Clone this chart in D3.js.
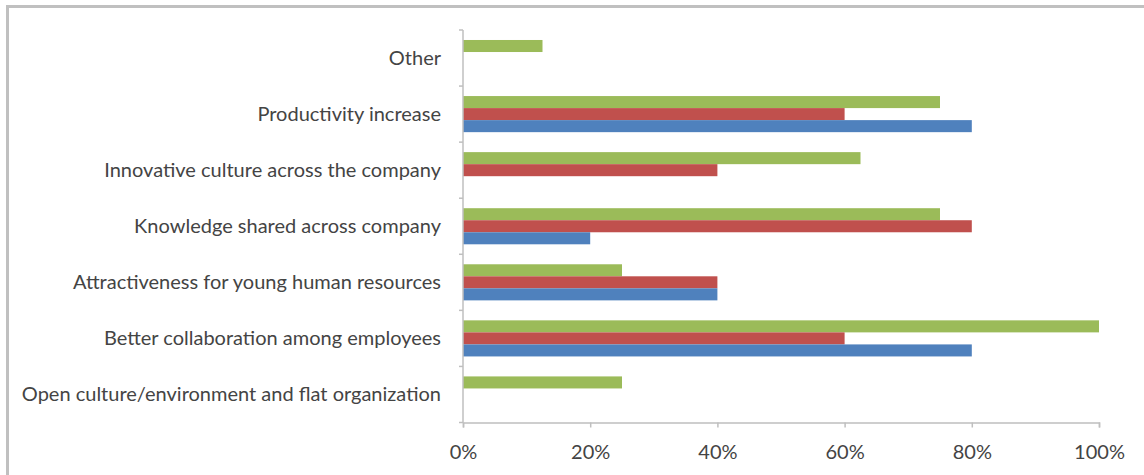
<!DOCTYPE html>
<html>
<head>
<meta charset="utf-8">
<script src="https://cdn.jsdelivr.net/npm/d3@7"></script>
<style>
  html, body { margin: 0; padding: 0; background: #ffffff; }
  svg { display: block; }
  text { font-family: Lato, "Open Sans", sans-serif; fill: #444444; }
</style>
</head>
<body>
<svg id="chart" width="1144" height="475"></svg>
<script>
// Categories listed bottom to top as they appear on the axis
const categories = [
  "Open culture/environment and flat organization",
  "Better collaboration among employees",
  "Attractiveness for young human resources",
  "Knowledge shared across company",
  "Innovative culture across the company",
  "Productivity increase",
  "Other"
];
// Series values (share of respondents), same order as categories
const blueValues  = [0,    0.80, 0.40, 0.20, 0,     0.80, 0];
const redValues   = [0,    0.60, 0.40, 0.80, 0.40,  0.60, 0];
const greenValues = [0.25, 1.00, 0.25, 0.75, 0.625, 0.75, 0.125];
const xTicks = [0, 0.2, 0.4, 0.6, 0.8, 1.0];

const series = [
  { key: "green", values: greenValues, color: "#9bbb59" },
  { key: "red",   values: redValues,   color: "#c0504d" },
  { key: "blue",  values: blueValues,  color: "#4f81bd" }
];

const svg = d3.select("#chart");

// Outer chart frame
svg.append("rect")
  .attr("x", 7.5).attr("y", 6.5)
  .attr("width", 1150).attr("height", 480)
  .attr("fill", "none")
  .attr("stroke", "#c0c0c0")
  .attr("stroke-width", 3);

const plot = { left: 463, right: 1099, top: 30, bottom: 422.5 };

const x = d3.scaleLinear().domain([0, 1]).range([plot.left, plot.right]);

// Top category first in the band order so it sits at the top
const y = d3.scaleBand()
  .domain(categories.slice().reverse())
  .range([plot.top, plot.bottom])
  .paddingInner(0)
  .paddingOuter(0);

// Three bars per category, with a gap above and below each group
const inner = d3.scaleBand()
  .domain(series.map(s => s.key))
  .range([0, y.bandwidth()])
  .paddingInner(0)
  .paddingOuter(0.83);

// Bars
series.forEach(s => {
  svg.append("g").selectAll("rect")
    .data(categories.map((c, i) => ({ c, v: s.values[i] })))
    .join("rect")
    .attr("x", x(0))
    .attr("y", d => y(d.c) + inner(s.key))
    .attr("width", d => x(d.v) - x(0))
    .attr("height", inner.bandwidth())
    .attr("fill", s.color);
});

// X axis
const xAxis = d3.axisBottom(x)
  .tickValues(xTicks)
  .tickFormat(d3.format(".0%"))
  .tickSize(5)
  .tickPadding(17);

const gx = svg.append("g")
  .attr("transform", `translate(0,${plot.bottom})`)
  .call(xAxis);
gx.select(".domain").attr("stroke", "#bfbfbf").attr("stroke-width", 1.5);
gx.selectAll(".tick line").attr("stroke", "#bfbfbf").attr("stroke-width", 1.5);
gx.selectAll(".tick text")
  .attr("font-size", 20)
  .attr("fill", "#444444")
  .style("font-family", "Lato, 'Open Sans', sans-serif");

// Y axis: tick marks on band boundaries, labels at band centers
const yAxisLine = svg.append("g");
yAxisLine.append("line")
  .attr("x1", plot.left).attr("x2", plot.left)
  .attr("y1", plot.top).attr("y2", plot.bottom)
  .attr("stroke", "#bfbfbf").attr("stroke-width", 1.5);
yAxisLine.selectAll("line.tick")
  .data(categories.concat(["__end"]))
  .join("line")
  .attr("class", "tick")
  .attr("x1", plot.left - 4).attr("x2", plot.left)
  .attr("y1", (d, i) => i < categories.length ? y(d) : plot.bottom)
  .attr("y2", (d, i) => i < categories.length ? y(d) : plot.bottom)
  .attr("stroke", "#bfbfbf").attr("stroke-width", 1.5);

svg.append("g").selectAll("text")
  .data(categories)
  .join("text")
  .attr("x", 441)
  .attr("y", d => y(d) + y.bandwidth() / 2)
  .attr("dy", "0.35em")
  .attr("text-anchor", "end")
  .attr("font-size", 20)
  .text(d => d);
</script>
</body>
</html>
